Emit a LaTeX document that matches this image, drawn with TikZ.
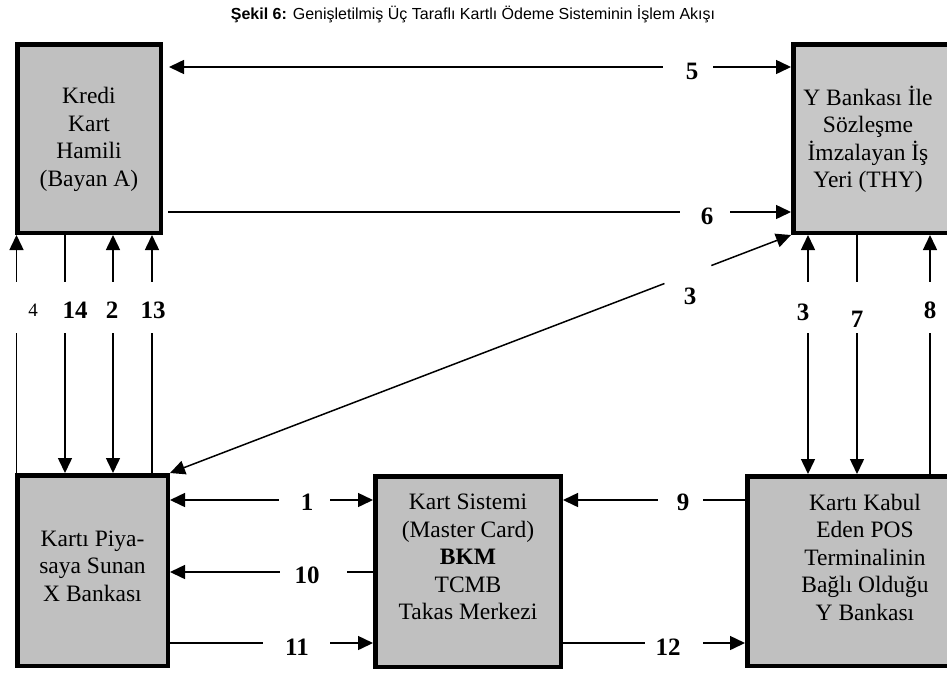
\documentclass[tikz,border=0pt]{standalone}
\usepackage{fontspec}
\setmainfont{Liberation Serif}
\newfontfamily\titlefont{Liberation Sans}
\usetikzlibrary{arrows.meta}
\definecolor{boxgray}{HTML}{C0C0C0}
\definecolor{boxgraylt}{HTML}{C7C7C7}

\begin{document}
\begin{tikzpicture}[x=1pt,y=-1pt,
  box/.style={draw, line width=4.5pt, fill=boxgray, inner sep=0pt, outer sep=2.25pt},
  boxtext/.style={align=center, font=\fontsize{23.5}{27.5}\selectfont, inner sep=0pt},
  tip/.tip={Triangle[length=15pt,width=14pt]},
  conn/.style={line width=1.5pt, -tip},
  connboth/.style={line width=1.5pt, tip-tip},
  gapmask/.style={fill=white, inner sep=0pt, minimum width=8pt, minimum height=8pt},
  num/.style={font=\fontsize{25}{25}\selectfont\bfseries, inner sep=0pt},
  numsmall/.style={font=\fontsize{19}{19}\selectfont, inner sep=0pt},
]
\useasboundingbox (0,0) rectangle (947,675);
\clip (0,0) rectangle (947,675);

% title
\node[font=\titlefont\fontsize{16}{19}\selectfont, inner sep=0pt] (title) at (473,14)
  {\textbf{Şekil 6:} Genişletilmiş Üç Taraflı Kartlı Ödeme Sisteminin İşlem Akışı};

% boxes
\node[box, minimum width=143.5pt, minimum height=188.5pt] (A) at (89,138.5) {};
\node[box, fill=boxgraylt, minimum width=159.5pt, minimum height=188.5pt] (B) at (873,138.5) {};
\node[box, minimum width=150.5pt, minimum height=190.5pt] (X) at (92.5,570.5) {};
\node[box, minimum width=185.5pt, minimum height=190.5pt] (K) at (468,571.5) {};
\node[box, minimum width=205.5pt, minimum height=189.5pt] (Y) at (850,571) {};

% box texts
\node[boxtext] (At) at (89,139.5) {Kredi\\Kart\\Hamili\\(Bayan A)};
\node[boxtext] (Bt) at (868,139.5) {Y Bankası İle\\Sözleşme\\İmzalayan İş\\Yeri (THY)};
\node[boxtext] (Xt) at (92.5,566) {Kartı Piya-\\saya Sunan\\X Bankası};
\node[boxtext] (Kt) at (468,557) {Kart Sistemi\\(Master Card)\\\textbf{BKM}\\TCMB\\Takas Merkezi};
\node[boxtext] (Yt) at (865,557) {Kartı Kabul\\Eden POS\\Terminalinin\\Bağlı Olduğu\\Y Bankası};

% lanes
\coordinate (h5) at (0,67);
\coordinate (h6) at (0,212);
\coordinate (h1) at (0,500);
\coordinate (h10) at (0,572);
\coordinate (h11) at (0,643);
\coordinate (v4) at (16.5,0);
\coordinate (v14) at (65,0);
\coordinate (v2) at (113,0);
\coordinate (v13) at (152,0);
\coordinate (v3) at (808,0);
\coordinate (v7) at (857,0);
\coordinate (v8) at (930,0);

% connectors
\draw[connboth, shorten <=6pt] (A.east |- h5) -- (B.west |- h5);
\draw[conn, shorten <=5pt] (A.east |- h6) -- (B.west |- h6);
\draw[connboth] (X.north east) --
  node[gapmask, sloped, pos=0.834, minimum width=50pt] (g3d) {} (B.south west);

\draw[conn] (X.north -| v4) -- (A.south -| v4);
\draw[conn] (A.south -| v14) -- (X.north -| v14);
\draw[connboth] (X.north -| v2) -- (A.south -| v2);
\draw[conn] (X.north -| v13) -- (A.south -| v13);

\draw[connboth] (B.south -| v3) -- (Y.north -| v3);
\draw[conn] (B.south -| v7) -- (Y.north -| v7);
\draw[conn] (Y.north -| v8) -- (B.south -| v8);

\draw[connboth] (X.east |- h1) -- (K.west |- h1);
\draw[conn] (K.west |- h10) -- (X.east |- h10);
\draw[conn] (X.east |- h11) -- (K.west |- h11);
\draw[conn] (Y.west |- h1) -- (K.east |- h1);
\draw[conn] (K.east |- h11) -- (Y.west |- h11);

% gaps in the connectors around the numbers
\node[gapmask, minimum width=50pt] (g5) at (688,67) {};
\node[gapmask, minimum width=50pt] (g6) at (705,212) {};
\foreach \v in {v4,v14,v2,v13,v3,v7,v8}
  \node[gapmask, minimum height=51pt] (g\v) at (\v |- 0,307.5) {};
\node[gapmask, minimum width=51pt] (g1) at (304.5,500) {};
\node[gapmask, minimum width=67pt] (g10) at (313.5,572) {};
\node[gapmask, minimum width=67pt] (g11) at (296.5,643) {};
\node[gapmask, minimum width=45pt] (g9) at (680.5,500) {};
\node[gapmask, minimum width=58pt] (g12) at (674,643) {};

% step numbers
\node[num] (n5) at (692,71) {5};
\node[num] (n6) at (707,216) {6};
\node[num] (n3d) at (690,296) {3};
\node[numsmall] (n4) at (33,310) {4};
\node[num] (n14) at (75,310) {14};
\node[num] (n2) at (112,310) {2};
\node[num] (n13) at (153,310) {13};
\node[num] (n3) at (803,312) {3};
\node[num] (n7) at (857,319) {7};
\node[num] (n8) at (930,310) {8};
\node[num] (n1) at (307,502) {1};
\node[num] (n10) at (307,575) {10};
\node[num] (n11) at (297,647) {11};
\node[num] (n9) at (683,502) {9};
\node[num] (n12) at (668,647) {12};
\end{tikzpicture}
\end{document}
